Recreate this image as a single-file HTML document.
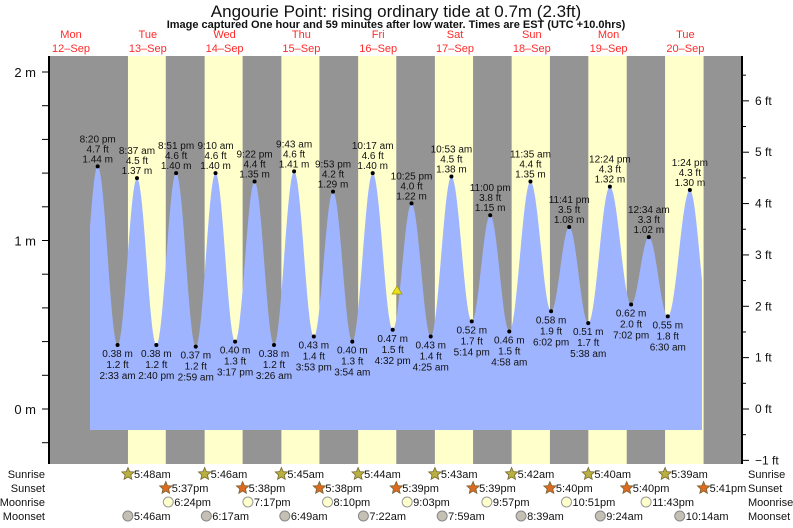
<!DOCTYPE html><html><head><meta charset="utf-8"><style>
body{margin:0;background:#fff;width:793px;height:523px;overflow:hidden;font-family:"Liberation Sans",sans-serif}
svg text{font-family:"Liberation Sans",sans-serif}
</style></head><body>
<svg id="s" width="793" height="523" xmlns="http://www.w3.org/2000/svg">
<text x="396" y="17" font-size="17" text-anchor="middle" fill="#111">Angourie Point: rising  ordinary tide at 0.7m (2.3ft)</text>
<text x="396" y="28" font-size="11" font-weight="bold" text-anchor="middle" fill="#111">Image captured One hour and 59 minutes after low water. Times are EST (UTC +10.0hrs)</text>
</svg>
<script>
var s=document.getElementById('s'),o='';
function X(d,h){return 32.6+d*76.8+h*3.2}
function Y(m){return 409-m*168.5}
function t(x,y,str,sz,anc,fill,extra){o+='<text x="'+x+'" y="'+y+'" font-size="'+sz+'" text-anchor="'+(anc||'middle')+'" fill="'+(fill||'#111')+'" '+(extra||'')+'>'+str+'</text>';}
o+='<rect x="49" y="56" width="693" height="408" fill="#949494"/>';
var sr=[[5,48],[5,46],[5,45],[5,44],[5,43],[5,42],[5,40],[5,39]],ss=[[17,37],[17,38],[17,38],[17,39],[17,39],[17,40],[17,40],[17,41]];
for(var i=0;i<8;i++){var a=X(i+1,sr[i][0]+sr[i][1]/60),b=X(i+1,ss[i][0]+ss[i][1]/60);o+='<rect x="'+a+'" y="56" width="'+(b-a)+'" height="408" fill="#ffffcc"/>';}
var dn=['Mon','Tue','Wed','Thu','Fri','Sat','Sun','Mon','Tue'];
for(var i=0;i<9;i++){var x=X(i,12);t(x,38,dn[i],11,'middle','#ff2a2a');t(x,52,(12+i)+'\u2013Sep',11,'middle','#ff2a2a');}
var E=[[0,14.3,0.38,0],[0,20+20/60,1.44,1,'8:20 pm'],[1,2+33/60,.38,0,'2:33 am'],[1,8+37/60,1.37,1,'8:37 am'],[1,14+40/60,.38,0,'2:40 pm'],[1,20+51/60,1.40,1,'8:51 pm'],
[2,2+59/60,.37,0,'2:59 am'],[2,9+10/60,1.40,1,'9:10 am'],[2,15+17/60,.40,0,'3:17 pm'],[2,21+22/60,1.35,1,'9:22 pm'],
[3,3+26/60,.38,0,'3:26 am'],[3,9+43/60,1.41,1,'9:43 am'],[3,15+53/60,.43,0,'3:53 pm'],[3,21+53/60,1.29,1,'9:53 pm'],
[4,3+54/60,.40,0,'3:54 am'],[4,10+17/60,1.40,1,'10:17 am'],[4,16+32/60,.47,0,'4:32 pm'],[4,22+25/60,1.22,1,'10:25 pm'],
[5,4+25/60,.43,0,'4:25 am'],[5,10+53/60,1.38,1,'10:53 am'],[5,17+14/60,.52,0,'5:14 pm'],[5,23,1.15,1,'11:00 pm'],
[6,4+58/60,.46,0,'4:58 am'],[6,11+35/60,1.35,1,'11:35 am'],[6,18+2/60,.58,0,'6:02 pm'],[6,23+41/60,1.08,1,'11:41 pm'],
[7,5+38/60,.51,0,'5:38 am'],[7,12+24/60,1.32,1,'12:24 pm'],[7,19+2/60,.62,0,'7:02 pm'],[8,34/60,1.02,1,'12:34 am'],
[8,6.5,.55,0,'6:30 am'],[8,13+24/60,1.30,1,'1:24 pm'],[8,19.6,.5,0]];
var pts=E.map(function(e){return [X(e[0],e[1]),Y(e[2])]});
var d='M90 430';
for(var k=0;k<pts.length-1;k++){var p=pts[k],q=pts[k+1];for(var x=Math.ceil(p[0]);x<=q[0];x+=1){if(x<90||x>702)continue;var f=(x-p[0])/(q[0]-p[0]);var y=p[1]+(q[1]-p[1])*(1-Math.cos(Math.PI*f))/2;d+=' L'+x+' '+y.toFixed(1);}}
d+=' L702 430 Z';
o+='<path d="'+d+'" fill="#9fb4ff"/>';
for(var k=1;k<E.length-1;k++){var e=E[k],x=pts[k][0],y=pts[k][1],ft=(e[2]/0.3048).toFixed(1)+' ft',m=e[2].toFixed(2)+' m';
o+='<circle cx="'+x+'" cy="'+y+'" r="2" fill="#000"/>';
if(e[3]){t(x,y-4,m,10);t(x,y-14,ft,10);t(x,y-24,e[4],10);}else{t(x,y+12,m,10);t(x,y+23,ft,10);t(x,y+34,e[4],10);}}
o+='<polygon points="397,286 392,294 402,294" fill="#e8e020" stroke="#a09000" stroke-width="0.7"/>';
o+='<line x1="49" y1="56" x2="49" y2="464" stroke="#000" stroke-width="2"/><line x1="742" y1="56" x2="742" y2="464" stroke="#000" stroke-width="2"/>';
for(var m=-0.2;m<=2.01;m+=0.2){var y=Y(m);if(y<56||y>464)continue;o+='<line x1="42" y1="'+y+'" x2="49" y2="'+y+'" stroke="#000"/>';}
[2,1,0].forEach(function(m){t(36,Y(m)+5,m+' m',13,'end','#111')});
for(var f=-1;f<=6.5;f+=0.5){var y=409-f*0.3048*168.5;if(y<56||y>464)continue;o+='<line x1="742" y1="'+y+'" x2="'+(f%1?746:749)+'" y2="'+y+'" stroke="#000"/>';if(f%1==0)t(755,y+4,(f<0?'\u22121':f)+' ft',12,'start','#111');}
var rows=['Sunrise','Sunset','Moonrise','Moonset'],ry=[478,492,506,520];
rows.forEach(function(r,i){t(45,ry[i],r,11,'end','#111');t(748,ry[i],r,11,'start','#111');});
function star(cx,cy,fill){var p='';for(var j=0;j<10;j++){var rr=j%2?3:6.5,an=-Math.PI/2+j*Math.PI/5;p+=(cx+rr*Math.cos(an)).toFixed(1)+','+(cy+rr*Math.sin(an)).toFixed(1)+' ';}o+='<polygon points="'+p+'" fill="'+fill+'" stroke="#776633" stroke-width="0.8"/>';}
for(var i=0;i<8;i++){var x=X(i+1,sr[i][0]+sr[i][1]/60);star(x,474,'#b8b040');t(x+6,478,sr[i][0]+':'+sr[i][1]+'am',11,'start');
x=X(i+1,ss[i][0]+ss[i][1]/60);star(x,488,'#dd6a20');t(x+6,492,'5:'+ss[i][1]+'pm',11,'start');}
var mr=[[1,18+24/60,'6:24pm'],[2,19+17/60,'7:17pm'],[3,20+10/60,'8:10pm'],[4,21+3/60,'9:03pm'],[5,21+57/60,'9:57pm'],[6,22+51/60,'10:51pm'],[7,23+43/60,'11:43pm']];
mr.forEach(function(r){var x=X(r[0],r[1]);o+='<circle cx="'+x+'" cy="502" r="5" fill="#ffffcc" stroke="#999"/>';t(x+6,506,r[2],11,'start');});
var ms=[[5,46],[6,17],[6,49],[7,22],[7,59],[8,39],[9,24],[10,14]];
ms.forEach(function(r,i){var x=X(i+1,r[0]+r[1]/60);o+='<circle cx="'+x+'" cy="516" r="5" fill="#c4c0b4" stroke="#888"/>';t(x+6,520,r[0]+':'+(r[1]<10?'0':'')+r[1]+'am',11,'start');});
s.innerHTML+=o;
</script>
</body></html>
